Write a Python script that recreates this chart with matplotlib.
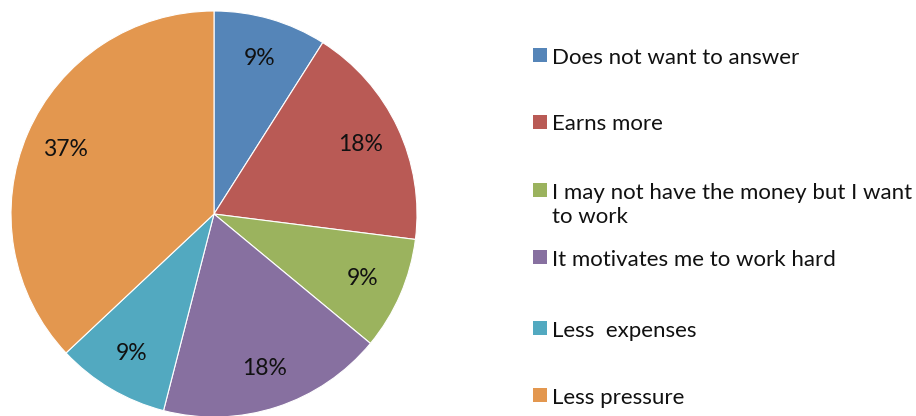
import matplotlib
matplotlib.use("Agg")
import matplotlib.pyplot as plt
from matplotlib.patches import Rectangle

labels = ["Does not want to answer", "Earns more",
          "I may not have the money but I want\nto work",
          "It motivates me to work hard", "Less  expenses", "Less pressure"]
values = [9, 18, 9, 18, 9, 37]
colors = ["#5585B8", "#B95A55", "#9BB35E", "#8770A0", "#52A9C0", "#E3974F"]

# legend rows (pixel y of square centre)
legend_y = [54.5, 121.5, 190, 257, 328, 395]

W, H = 916, 416
plt.rcParams['font.family'] = ['Lato', 'DejaVu Sans']

fig = plt.figure(figsize=(W / 100, H / 100), dpi=100)
fig.patch.set_facecolor("white")

# pie: centre (214, 214), radius ~203 px
cx, cy, r = 214, 214, 203
ax = fig.add_axes([(cx - r) / W, (H - cy - r) / H, 2 * r / W, 2 * r / H])
wedges, texts, autotexts = ax.pie(
    values, colors=colors, startangle=90, counterclock=False,
    autopct=lambda p: f"{p:.0f}%", pctdistance=0.8, radius=1,
    wedgeprops=dict(edgecolor="white", linewidth=0.8),
    textprops=dict(fontsize=16.5, color="#111111"))
ax.set_xlim(-1, 1)
ax.set_ylim(-1, 1)
ax.set_aspect("auto")
ax.axis("off")

sq = 14
for lab, col, y in zip(labels, colors, legend_y):
    fig.patches.append(Rectangle((533 / W, (H - y - sq / 2) / H), sq / W, sq / H,
                                 transform=fig.transFigure, facecolor=col,
                                 edgecolor="none"))
    base = y + 9
    for i, line in enumerate(lab.split("\n")):
        fig.text(552 / W, (H - base - 24 * i) / H, line, fontsize=16,
                 color="#111111", va="baseline", ha="left")

fig.savefig("out.png", dpi=100, facecolor="white")
